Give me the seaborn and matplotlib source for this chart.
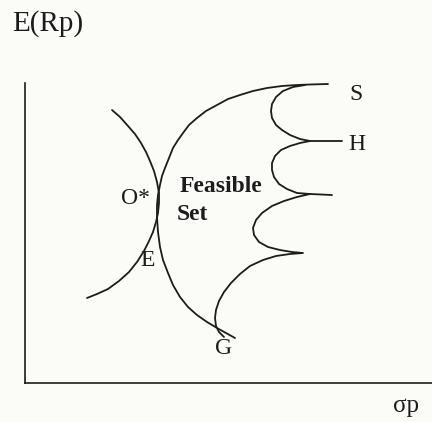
import numpy as np
import pandas as pd
import matplotlib
matplotlib.use("Agg")
import matplotlib.pyplot as plt
import seaborn as sns

# curve points (sigma_p, E(Rp)) in arbitrary units
frontier_x = [30.3, 28.5, 27.2, 25.7, 24.2, 22.8, 21.5, 20.3, 19.2, 18.1, 17.2,
              16.4, 15.8, 15.3, 14.8, 14.4, 14.0, 13.7, 13.5, 13.3, 13.2, 13.2,
              13.3, 13.5, 13.8, 14.3, 14.8, 15.5, 16.3, 17.2, 18.2, 19.2, 20.1, 21.0]
frontier_y = [29.9, 29.85, 29.8, 29.7, 29.5, 29.2, 28.8, 28.4, 27.8, 27.2, 26.5,
              25.8, 25.0, 24.3, 23.5, 22.5, 21.5, 20.7, 19.8, 18.8, 17.8, 16.6,
              15.1, 13.6, 12.3, 11.0, 9.8, 8.6, 7.6, 6.8, 6.1, 5.5, 5.0, 4.5]

indiff_x = [8.7, 9.5, 10.3, 11.0, 11.6, 12.1, 12.5, 12.9, 13.2, 13.4, 13.4,
            13.3, 13.1, 12.8, 12.4, 11.9, 11.2, 10.4, 9.4, 8.3, 7.2, 6.2]
indiff_y = [27.3, 26.6, 25.7, 24.9, 24.0, 23.1, 22.2, 21.2, 20.1, 19.0, 18.0,
            17.0, 16.1, 15.1, 14.2, 13.2, 12.1, 11.1, 10.2, 9.4, 8.9, 8.5]

scallop_x = [28.0, 26.8, 25.8, 25.1, 24.7, 24.6, 24.7, 25.1, 25.7, 26.5, 27.5, 28.5,
             27.5, 26.5, 25.6, 25.0, 24.7, 24.7, 24.9, 25.4, 26.2, 27.2, 28.5,
             27.2, 25.9, 24.7, 23.7, 23.1, 22.8, 22.9, 23.4, 24.3, 25.5, 26.7, 27.8,
             26.5, 25.1, 23.8, 22.5, 21.5, 20.6, 19.9, 19.4, 19.1, 19.0, 19.1, 19.4, 19.9]
scallop_y = [29.8, 29.6, 29.2, 28.6, 27.9, 27.2, 26.5, 25.8, 25.3, 24.8, 24.4, 24.2,
             24.0, 23.7, 23.3, 22.7, 22.0, 21.3, 20.6, 19.9, 19.4, 19.0, 18.9,
             18.6, 18.2, 17.7, 17.0, 16.3, 15.5, 14.8, 14.1, 13.6, 13.3, 13.1, 13.0,
             12.9, 12.7, 12.3, 11.7, 10.9, 10.0, 9.1, 8.2, 7.3, 6.5, 5.7, 5.1, 4.6]

spur_h_x = [28.5, 31.7]
spur_h_y = [24.2, 24.2]
spur_m_x = [28.5, 30.7]
spur_m_y = [18.9, 18.8]

# point labels
labels = ["S", "H", "O*", "E", "G"]
label_x = [33.1, 33.2, 11.1, 12.3, 19.9]
label_y = [28.9, 23.9, 18.4, 12.2, 3.4]


def build_frame():
    parts = []
    for name, xs, ys in [("frontier", frontier_x, frontier_y),
                         ("indifference", indiff_x, indiff_y),
                         ("scallops", scallop_x, scallop_y),
                         ("spur_h", spur_h_x, spur_h_y),
                         ("spur_m", spur_m_x, spur_m_y)]:
        parts.append(pd.DataFrame({"x": xs, "y": ys, "curve": name,
                                   "order": np.arange(len(xs))}))
    return pd.concat(parts, ignore_index=True)


sns.set_style("white")
plt.rcParams["font.family"] = ["Liberation Serif", "DejaVu Serif"]

W, H = 432, 422
bg = "#fbfbf8"
ink = "#1c1c1c"

fig = plt.figure(figsize=(W / 100, H / 100), dpi=100, facecolor=bg)
# axes box in pixels: x 25..432, y 83..383
ax = fig.add_axes([25 / W, (H - 383) / H, (W - 25) / W, 300 / H])
ax.set_facecolor(bg)

df = build_frame()
sns.lineplot(data=df, x="x", y="y", units="curve", estimator=None, sort=False,
             color=ink, linewidth=1.3, ax=ax, legend=False)
for line in ax.lines:
    line.set_solid_joinstyle("round")
    line.set_solid_capstyle("round")

ax.set_xlim(0, 40.7)
ax.set_ylim(0, 30)
ax.set_xticks([])
ax.set_yticks([])
ax.set_xlabel("")
ax.set_ylabel("")
for side in ["top", "right"]:
    ax.spines[side].set_visible(False)
for side in ["left", "bottom"]:
    ax.spines[side].set_color(ink)
    ax.spines[side].set_linewidth(1.2)

for lab, lx, ly in zip(labels, label_x, label_y):
    ax.text(lx, ly, lab, ha="center", va="center", fontsize=17, color=ink)

ax.text(15.5, 19.7, "Feasible", ha="left", va="center", fontsize=17,
        fontweight="bold", color=ink)
ax.text(15.2, 16.8, "Set", ha="left", va="center", fontsize=17,
        fontweight="bold", color=ink)

fig.text(12 / W, 1 - 24 / H, "E(Rp)", ha="left", va="center", fontsize=21, color=ink)
fig.text(393 / W, 1 - 406 / H, "σp", ha="left", va="center", fontsize=18, color=ink)

fig.savefig("out.png", dpi=100, facecolor=bg)
